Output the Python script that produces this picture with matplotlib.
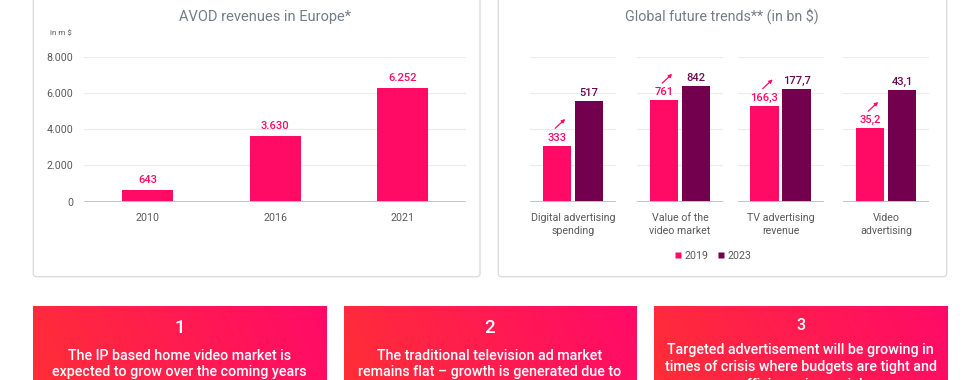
import matplotlib
matplotlib.use('Agg')
import matplotlib.pyplot as plt
import numpy as np
from matplotlib.patches import FancyBboxPatch, Rectangle
from matplotlib.lines import Line2D
from matplotlib.transforms import offset_copy

plt.rcParams['font.family'] = ['Roboto', 'DejaVu Sans']

# data: left chart
avod_years = ['2010', '2016', '2021']
avod_values = [643, 3630, 6252]

# data: right chart
trend_labels = ['Digital advertising\nspending', 'Value of the\nvideo market',
                'TV advertising\nrevenue', 'Video\nadvertising']
values_2019 = [333, 761, 166.3, 35.2]
values_2023 = [517, 842, 177.7, 43.1]
trend_ylims = [(100, 700), (200, 1000), (100, 200), (20, 50)]

card_titles = ['1', '2', '3']
card_texts = ['The IP based home video market is\nexpected to grow over the coming years',
              'The traditional television ad market\nremains flat \u2013 growth is generated due to',
              'Targeted advertisement will be growing in\ntimes of crisis where budgets are tight and\nefficiency is crucial']

PINK = '#ff0a64'
PURPLE = '#72004f'
GRAY_T = '#767c85'
GRAY_L = '#5a5a5a'

W, H = 980, 380


def rect(x0, y0, x1, y1):
    return [x0 / W, 1 - y1 / H, (x1 - x0) / W, (y1 - y0) / H]


def fmt_thousand(v):
    return f'{v:,.0f}'.replace(',', '.')


def fmt_dec(v):
    if float(v).is_integer():
        return str(int(v))
    return f'{v:.1f}'.replace('.', ',')


fig = plt.figure(figsize=(9.8, 3.8), dpi=100)

# background layer in pixel coords
bg = fig.add_axes([0, 0, 1, 1], zorder=0)
bg.set_xlim(0, W)
bg.set_ylim(H, 0)
bg.axis('off')

for x0, x1 in [(33.3, 480), (498.3, 946.7)]:
    bg.add_patch(FancyBboxPatch((x0, -20), x1 - x0, 276.7 + 20,
                                boxstyle='round,pad=0,rounding_size=3',
                                fc='white', ec='#dcdcdc', lw=1.0))

# gradient cards
card_x = [(33, 326), (344, 636), (654, 947)]
gw, gh = 200, 60
xx, yy = np.meshgrid(np.linspace(0, 1, gw), np.linspace(0, 1, gh))
t = np.clip(0.85 * xx + 0.15 * (1 - yy), 0, 1)
c0 = np.array([255, 48, 52]) / 255
c1 = np.array([255, 10, 104]) / 255
grad = c0[None, None, :] * (1 - t[..., None]) + c1[None, None, :] * t[..., None]

title_y = [328, 328, 325]
text_y = [355, 355, 349]
num_size = [13.5, 13.5, 11.5]
line_sp = [1.2, 1.2, 1.3]
for i, (x0, x1) in enumerate(card_x):
    im = bg.imshow(grad, extent=[x0, x1, 420, 305.7], aspect='auto', zorder=1,
                   interpolation='bilinear')
    clip = Rectangle((x0, 305.7), x1 - x0, 120, transform=bg.transData)
    im.set_clip_path(clip)
    cx = (x0 + x1) / 2
    bg.text(cx, title_y[i], card_titles[i], color='white', fontsize=num_size[i],
            fontweight='medium', ha='center', va='center', zorder=2)
    bg.text(cx, text_y[i] - 6, card_texts[i], color='white', fontsize=10.3,
            fontweight='medium', ha='center', va='top', zorder=2,
            linespacing=line_sp[i])
bg.set_xlim(0, W)
bg.set_ylim(H, 0)

# left chart
ax = fig.add_axes(rect(84.3, 56.7, 466, 201.7), zorder=1)
ax.set_facecolor('none')
xs = np.arange(len(avod_years))
ax.bar(xs, avod_values, width=0.4, color=PINK, zorder=2)
ax.set_xlim(-0.5, 2.5)
ax.set_ylim(0, 8000)
ax.set_yticks(np.arange(0, 8001, 2000))
ax.set_yticklabels([fmt_thousand(v) for v in np.arange(0, 8001, 2000)])
ax.set_xticks(xs)
ax.set_xticklabels(avod_years)
ax.tick_params(length=0, labelsize=7.7, labelcolor=GRAY_L)
ax.tick_params(axis='y', pad=8)
ax.tick_params(axis='x', pad=8)
for s in ax.spines.values():
    s.set_visible(False)
ax.yaxis.grid(True, color='#ebebeb', lw=0.8)
ax.set_axisbelow(True)
ax.axhline(0, color='#c4c4c4', lw=1.4, zorder=3)
for x, v in zip(xs, avod_values):
    ax.annotate(fmt_thousand(v), (x, v), xytext=(0, 5), textcoords='offset pixels',
                ha='center', va='bottom', color=PINK, fontsize=8, fontweight='medium')

fig.text(265 / W, 1 - 16.5 / H, 'AVOD revenues in Europe*', ha='center', va='center',
         fontsize=10.5, color=GRAY_T)
fig.text(50 / W, 1 - 33 / H, 'in m $', ha='left', va='center', fontsize=5.8, color=GRAY_L)

# right chart: one small axes per group
lefts = [530, 637, 737.5, 843]
for i in range(len(trend_labels)):
    a = fig.add_axes(rect(lefts[i], 57.3, lefts[i] + 86, 201.5), zorder=1)
    a.set_facecolor('none')
    lo, hi = trend_ylims[i]
    a.bar([0, 1], [values_2019[i], values_2023[i]], width=0.9,
          color=[PINK, PURPLE], zorder=2)
    a.set_xlim(-0.84, 1.84)
    a.set_ylim(lo, hi)
    a.set_yticks(np.linspace(lo, hi, 5))
    a.set_yticklabels([])
    a.set_xticks([0.5])
    a.set_xticklabels([trend_labels[i]], linespacing=1.4)
    a.tick_params(length=0, labelsize=7.7, labelcolor=GRAY_L)
    a.tick_params(axis='x', pad=8)
    for s in a.spines.values():
        s.set_visible(False)
    a.yaxis.grid(True, color='#ebebeb', lw=0.8)
    a.set_axisbelow(True)
    a.axhline(lo, color='#c4c4c4', lw=1.4, zorder=3)
    for x, v, c in [(0, values_2019[i], PINK), (1, values_2023[i], '#6a0a4e')]:
        a.annotate(fmt_dec(v), (x, v), xytext=(0, 3), textcoords='offset pixels',
                   ha='center', va='bottom', color=c, fontsize=8, fontweight='medium')
    head = offset_copy(a.transData, fig=fig, x=8.2, y=26.5, units='dots')
    tail = offset_copy(a.transData, fig=fig, x=-1.8, y=17.2, units='dots')
    a.annotate('', xy=(0, values_2019[i]), xycoords=head,
               xytext=(0, values_2019[i]), textcoords=tail,
               arrowprops=dict(arrowstyle='-|>', color=PINK, lw=0.9,
                               mutation_scale=5, shrinkA=0, shrinkB=0))

fig.text(721.7 / W, 1 - 16 / H, 'Global future trends** (in bn $)', ha='center',
         va='center', fontsize=10.3, color=GRAY_T)

handles = [Line2D([], [], ls='none', marker='s', ms=4.5, mfc=PINK, mec='none', label='2019'),
           Line2D([], [], ls='none', marker='s', ms=4.5, mfc=PURPLE, mec='none', label='2023')]
fig.legend(handles=handles, loc='center', bbox_to_anchor=(713 / W, 1 - 255.7 / H),
           ncol=2, frameon=False, fontsize=7.7, labelcolor=GRAY_L,
           handlelength=0.6, handletextpad=0.35, columnspacing=0.8)

fig.savefig('out.png', dpi=100)
